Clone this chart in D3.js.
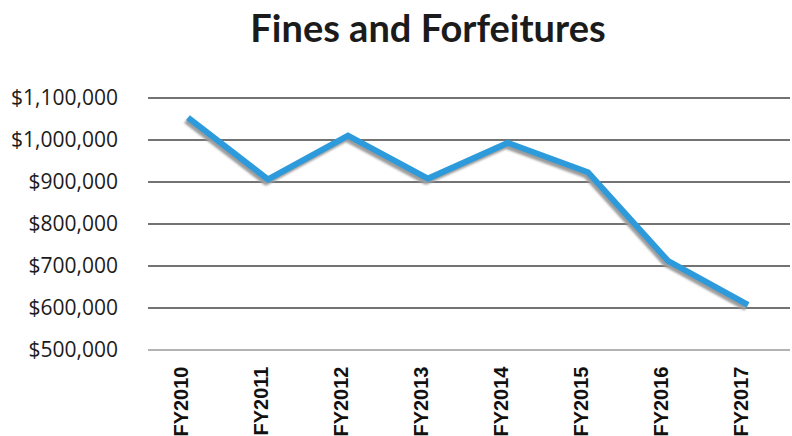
<!DOCTYPE html>
<html>
<head>
<meta charset="utf-8">
<script src="https://cdn.jsdelivr.net/npm/d3@7"></script>
<style>
  html, body { margin: 0; padding: 0; background: #fff; }
  svg { display: block; }
</style>
</head>
<body>
<svg id="chart" width="792" height="436"></svg>
<script>
// Fines and Forfeitures revenue by fiscal year
const years = ["FY2010", "FY2011", "FY2012", "FY2013", "FY2014", "FY2015", "FY2016", "FY2017"];
const revenue = [1052000, 905000, 1009000, 907000, 992000, 922000, 711000, 606000];
const yTicks = [500000, 600000, 700000, 800000, 900000, 1000000, 1100000];
const title = "Fines and Forfeitures";

const svg = d3.select("#chart");
const W = 792, H = 436;
const margin = { left: 148, right: 4, top: 97.5, bottom: 86.5 };

const x = d3.scalePoint()
  .domain(years)
  .range([margin.left, W - margin.right])
  .padding(0.5);

const y = d3.scaleLinear()
  .domain([500000, 1100000])
  .range([H - margin.bottom, margin.top]);

const fmt = v => "$" + d3.format(",")(v);

// Title
svg.append("text")
  .attr("x", 428)
  .attr("y", 42)
  .attr("text-anchor", "middle")
  .attr("font-family", "Lato, 'Open Sans', sans-serif")
  .attr("font-weight", "bold")
  .attr("font-size", 38)
  .attr("fill", "#1b1b1b")
  .text(title);

// Horizontal gridlines with dollar labels
const yAxis = d3.axisLeft(y)
  .tickValues(yTicks)
  .tickSize(-(W - margin.left - 2))
  .tickPadding(30)
  .tickFormat(fmt);

const gy = svg.append("g")
  .attr("transform", `translate(${margin.left},0)`)
  .call(yAxis);
gy.select(".domain").remove();
gy.selectAll(".tick line")
  .attr("stroke", d => d === 500000 ? "#9a9a9a" : "#454545")
  .attr("stroke-width", 1.7);
gy.selectAll(".tick text")
  .attr("font-family", "'Open Sans', sans-serif")
  .attr("font-size", 21)
  .attr("fill", "#1b1b1b");

// Rotated category labels
const xAxis = d3.axisBottom(x).tickSize(0).tickPadding(0);
const gx = svg.append("g")
  .attr("transform", `translate(0,${H - margin.bottom})`)
  .call(xAxis);
gx.select(".domain").remove();
gx.selectAll(".tick text")
  .attr("font-family", "'Liberation Sans', Arial, sans-serif")
  .attr("font-weight", "bold")
  .attr("font-size", 20)
  .attr("fill", "#111")
  .attr("text-anchor", "end")
  .attr("dy", null)
  .attr("transform", "translate(-1,17) rotate(-90)");

// Soft shadow under the line
const defs = svg.append("defs");
defs.append("filter")
  .attr("id", "shadow")
  .attr("x", "-10%").attr("y", "-10%")
  .attr("width", "120%").attr("height", "120%")
  .append("feGaussianBlur")
  .attr("stdDeviation", 1.3);

const line = d3.line()
  .x((d, i) => x(years[i]))
  .y(d => y(d));

svg.append("path")
  .datum(revenue)
  .attr("d", line)
  .attr("fill", "none")
  .attr("stroke", "#9c9c9c")
  .attr("stroke-width", 6)
  .attr("stroke-linejoin", "round")
  .attr("transform", "translate(-2,3)")
  .attr("filter", "url(#shadow)");

svg.append("path")
  .datum(revenue)
  .attr("d", line)
  .attr("fill", "none")
  .attr("stroke", "#2d9bdb")
  .attr("stroke-width", 6)
  .attr("stroke-linejoin", "miter");
</script>
</body>
</html>
